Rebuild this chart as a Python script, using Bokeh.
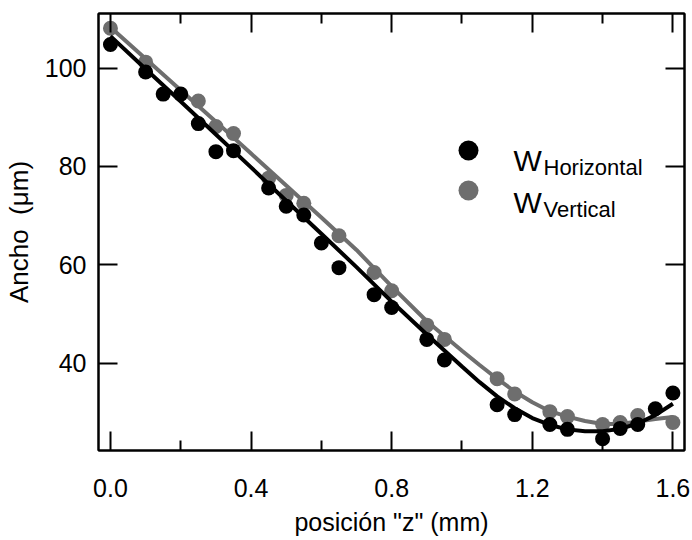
from bokeh.plotting import figure
from bokeh.models import (Range1d, LinearAxis, FixedTicker, Legend, LegendItem, Label,
                          ColumnDataSource, PrintfTickFormatter, CustomJSTickFormatter)
from bokeh.embed import file_html
from bokeh.resources import INLINE

# ---- data ----
z_h = [0.0, 0.1, 0.15, 0.2, 0.25, 0.3, 0.35, 0.45, 0.5, 0.55, 0.6, 0.65, 0.75, 0.8,
       0.9, 0.95, 1.1, 1.15, 1.25, 1.3, 1.4, 1.45, 1.5, 1.55, 1.6]
w_h = [104.8, 99.2, 94.7, 94.7, 88.7, 83.0, 83.2, 75.6, 71.9, 70.1, 64.4, 59.4, 53.9, 51.3,
       44.8, 40.6, 31.5, 29.5, 27.5, 26.5, 24.6, 26.7, 27.5, 30.7, 33.9]

z_v = [0.0, 0.1, 0.25, 0.3, 0.35, 0.45, 0.5, 0.55, 0.65, 0.75, 0.8, 0.9, 0.95,
       1.1, 1.15, 1.25, 1.3, 1.4, 1.45, 1.5, 1.6]
w_v = [108.1, 101.2, 93.3, 88.1, 86.7, 77.6, 74.1, 72.5, 65.9, 58.4, 54.7, 47.7, 44.8,
       36.8, 33.7, 30.1, 29.1, 27.5, 27.9, 29.3, 27.9]

fit_z_h = [0.0, 0.1, 0.2, 0.3, 0.4, 0.5, 0.6, 0.7, 0.8, 0.9, 1.0, 1.05, 1.1, 1.15, 1.2,
           1.25, 1.3, 1.35, 1.4, 1.45, 1.5, 1.55, 1.6]
fit_w_h = [106.5, 99.8, 93.2, 86.5, 79.8, 73.0, 66.3, 59.5, 52.5, 45.8, 39.3, 36.1, 33.2,
           30.8, 28.8, 27.4, 26.5, 26.1, 26.1, 26.6, 27.7, 29.4, 31.7]

fit_z_v = [0.0, 0.1, 0.2, 0.3, 0.4, 0.5, 0.6, 0.7, 0.8, 0.9, 1.0, 1.05, 1.1, 1.15, 1.2,
           1.25, 1.3, 1.35, 1.4, 1.45, 1.5, 1.55, 1.6]
fit_w_v = [108.3, 101.9, 95.5, 89.1, 82.6, 76.1, 69.6, 63.0, 55.6, 48.5, 42.5, 39.6, 36.8,
           34.2, 32.0, 30.2, 29.1, 28.2, 27.6, 27.6, 28.1, 28.6, 29.0]

x_major = [0.0, 0.4, 0.8, 1.2, 1.6]
x_minor = [0.2, 0.6, 1.0, 1.4]
y_major = [40, 60, 80, 100]

# ---- styles ----
BLACK = "#000000"
GRAY = "#6e6e6e"
FONT = "Liberation Sans"

p = figure(width=690, height=538, output_backend="svg", toolbar_location=None,
           x_range=Range1d(-0.034, 1.633), y_range=Range1d(22.2, 111.1),
           min_border_left=96, min_border_right=6, min_border_top=13, min_border_bottom=85)
p.grid.visible = False
p.outline_line_color = "black"
p.outline_line_width = 2
p.background_fill_color = "white"
p.border_fill_color = "white"


def style_axis(ax):
    ax.axis_line_width = 2
    ax.axis_line_color = "black"
    ax.major_tick_line_width = 2
    ax.minor_tick_line_width = 2
    ax.major_tick_line_color = "black"
    ax.minor_tick_line_color = "black"
    ax.major_tick_in = 19
    ax.major_tick_out = 0
    ax.minor_tick_in = 10
    ax.minor_tick_out = 0
    ax.major_label_text_font = FONT
    ax.major_label_text_font_size = "25px"
    ax.major_label_text_color = "black"
    ax.axis_label_text_font = FONT
    ax.axis_label_text_font_size = "25px"
    ax.axis_label_text_font_style = "normal"
    ax.axis_label_text_color = "black"


xt = FixedTicker(ticks=x_major, minor_ticks=x_minor)
yt = FixedTicker(ticks=y_major, minor_ticks=[])

xa = p.xaxis[0]
xa.ticker = xt
xa.formatter = PrintfTickFormatter(format="%.1f")
style_axis(xa)
xa.major_label_standoff = 28
xa.axis_label = 'posición "z" (mm)'
xa.axis_label_standoff = 8

ya = p.yaxis[0]
ya.ticker = yt
ya.formatter = PrintfTickFormatter(format="%d")
style_axis(ya)
ya.major_label_standoff = 12
ya.axis_label = "Ancho \u00a0(μm)"
ya.axis_label_text_font_size = "26px"
ya.axis_label_standoff = 8

blank = CustomJSTickFormatter(code="return ''")

top = LinearAxis(ticker=xt, formatter=blank)
style_axis(top)
top.major_label_standoff = 0
p.add_layout(top, "above")

right = LinearAxis(ticker=yt, formatter=blank)
style_axis(right)
right.major_label_standoff = 0
p.add_layout(right, "right")

# ---- glyphs ----
src_h = ColumnDataSource(dict(z=z_h, w=w_h))
src_v = ColumnDataSource(dict(z=z_v, w=w_v))
src_fh = ColumnDataSource(dict(z=fit_z_h, w=fit_w_h))
src_fv = ColumnDataSource(dict(z=fit_z_v, w=fit_w_v))

p.line("z", "w", source=src_fv, line_color=GRAY, line_width=4)
sv = p.scatter("z", "w", source=src_v, size=15, fill_color=GRAY, line_color=None)
p.line("z", "w", source=src_fh, line_color=BLACK, line_width=4)
sh = p.scatter("z", "w", source=src_h, size=15, fill_color=BLACK, line_color=None)

# ---- legend ----
G = 50
for rend, (cx, cy) in ((sh, (370, 300)), (sv, (370, 260))):
    leg = Legend(items=[LegendItem(label=" ", renderers=[rend])],
                 location=(cx - G // 2, cy - G // 2), glyph_width=G, glyph_height=G,
                 padding=0, margin=0, spacing=0, label_standoff=0,
                 label_text_font_size="1px", label_width=1, label_height=1,
                 border_line_color=None, background_fill_alpha=0)
    p.add_layout(leg)

for text, sub, y_w, y_s in (("W", "Horizontal", 290, 283), ("W", "Vertical", 248, 241)):
    p.add_layout(Label(x=415, y=y_w, x_units="screen", y_units="screen", text=text,
                       text_font=FONT, text_font_size="30px", text_baseline="alphabetic",
                       text_color="black"))
    p.add_layout(Label(x=445, y=y_s, x_units="screen", y_units="screen", text=sub,
                       text_font=FONT, text_font_size="22px", text_baseline="alphabetic",
                       text_color="black"))

open("out.html", "w").write(file_html(p, INLINE))
